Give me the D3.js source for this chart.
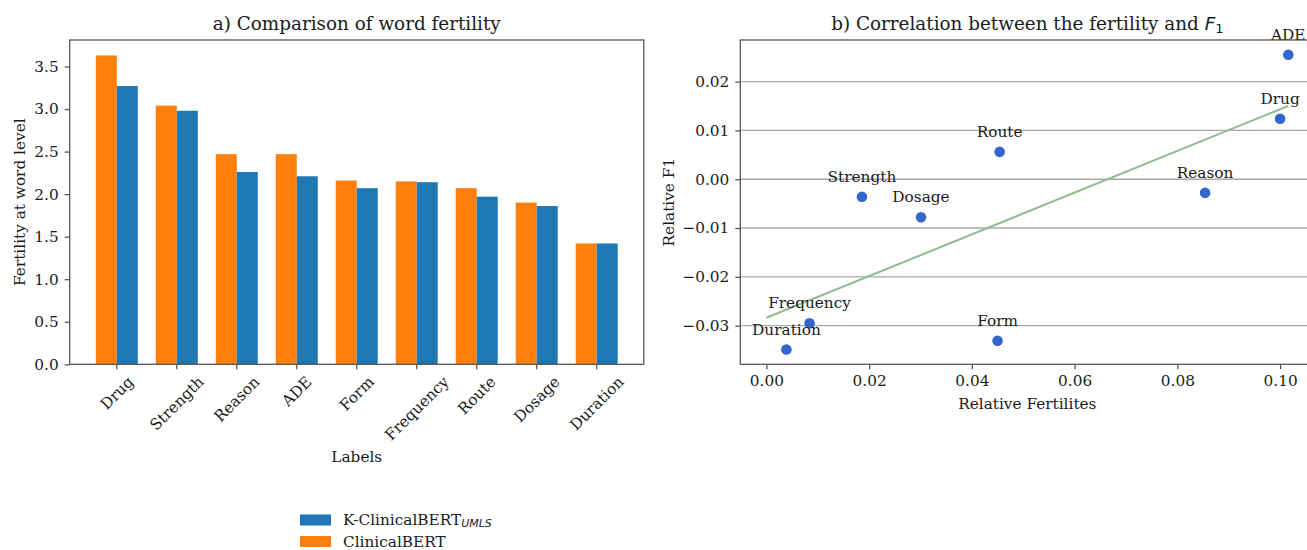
<!DOCTYPE html>
<html>
<head>
<meta charset="utf-8">
<script src="https://cdn.jsdelivr.net/npm/d3@7"></script>
<style>
  html, body { margin: 0; padding: 0; background: #fff; overflow: hidden; }
  svg text { font-family: "DejaVu Serif", serif; fill: #1a1a1a; }
</style>
</head>
<body>
<svg id="fig" width="1307" height="550"></svg>
<script>
// ---- panel a: word fertility per entity label ----
const categories = ["Drug", "Strength", "Reason", "ADE", "Form", "Frequency", "Route", "Dosage", "Duration"];
const clinicalBERT = [3.63, 3.04, 2.47, 2.47, 2.16, 2.15, 2.07, 1.90, 1.42];
const kClinicalBERT = [3.27, 2.98, 2.26, 2.21, 2.07, 2.14, 1.97, 1.86, 1.42];
const fertilityTicks = [0.0, 0.5, 1.0, 1.5, 2.0, 2.5, 3.0, 3.5];

// ---- panel b: relative fertility vs relative F1 ----
const pointLabels = ["Duration", "Frequency", "Strength", "Dosage", "Route", "Form", "Reason", "Drug", "ADE"];
const relativeFertility = [0.0039, 0.0084, 0.0186, 0.0301, 0.0454, 0.0450, 0.0854, 0.1000, 0.1016];
const relativeF1 = [-0.0349, -0.0295, -0.0036, -0.0078, 0.0056, -0.0331, -0.0028, 0.0124, 0.0255];
const relFertilityTicks = [0.00, 0.02, 0.04, 0.06, 0.08, 0.10];
const relF1Ticks = [-0.03, -0.02, -0.01, 0.00, 0.01, 0.02];

const COLOR_CLINICAL = "#ff7f0e";
const COLOR_K = "#1f77b4";
const COLOR_POINT = "#3366cc";
const COLOR_TREND = "#8fbc8f";
const SPINE = "#555";
const FS = 15.3;

const svg = d3.select("#fig");

const A = { left: 69.7, right: 643.8, top: 40, bottom: 364.3 };
const B = { left: 740.3, right: 1314.4, top: 40, bottom: 364.3 };

function styleAxis(g) {
  g.select(".domain").remove();
  g.selectAll(".tick line").attr("stroke", SPINE).attr("stroke-width", 1.3);
  g.selectAll(".tick text").style("font-size", FS + "px").attr("fill", "#1a1a1a");
}

// ================= panel a =================
const xA = d3.scaleBand().domain(categories).range([A.left, A.right])
  .paddingInner(0.3).paddingOuter(0.435);
const yA = d3.scaleLinear()
  .domain([0, d3.max(clinicalBERT.concat(kClinicalBERT)) * 1.05])
  .range([A.bottom, A.top]);
const barW = xA.bandwidth() / 2;

const gA = svg.append("g");
gA.selectAll("rect.cb").data(categories).join("rect")
  .attr("x", d => xA(d))
  .attr("y", (d, i) => yA(clinicalBERT[i]))
  .attr("width", barW)
  .attr("height", (d, i) => yA(0) - yA(clinicalBERT[i]))
  .attr("fill", COLOR_CLINICAL);
gA.selectAll("rect.kb").data(categories).join("rect")
  .attr("x", d => xA(d) + barW)
  .attr("y", (d, i) => yA(kClinicalBERT[i]))
  .attr("width", barW)
  .attr("height", (d, i) => yA(0) - yA(kClinicalBERT[i]))
  .attr("fill", COLOR_K);

gA.append("g").attr("transform", `translate(${A.left},0)`)
  .call(d3.axisLeft(yA).tickValues(fertilityTicks).tickFormat(d3.format(".1f")).tickSize(5).tickPadding(6))
  .call(styleAxis);

const xAxisA = gA.append("g").attr("transform", `translate(0,${A.bottom})`)
  .call(d3.axisBottom(xA).tickSize(5).tickPadding(6))
  .call(styleAxis);
// rotated category labels, centred under each tick
xAxisA.selectAll(".tick text").each(function () {
  const t = d3.select(this);
  const w = this.getComputedTextLength();
  const h = FS * 1.15;
  const cy = 8.5 + (w + h) / (2 * Math.SQRT2);
  t.attr("y", null).attr("dy", "0.35em").attr("text-anchor", "middle")
    .attr("transform", `translate(0,${cy}) rotate(-45)`);
});

gA.append("rect").attr("x", A.left).attr("y", A.top)
  .attr("width", A.right - A.left).attr("height", A.bottom - A.top)
  .attr("fill", "none").attr("stroke", SPINE).attr("stroke-width", 1.3);

svg.append("text").attr("x", (A.left + A.right) / 2).attr("y", 30)
  .attr("text-anchor", "middle").style("font-size", (FS * 1.2) + "px")
  .text("a) Comparison of word fertility");
svg.append("text").attr("x", (A.left + A.right) / 2).attr("y", 462)
  .attr("text-anchor", "middle").style("font-size", FS + "px").text("Labels");
svg.append("text").attr("transform", `translate(25,${(A.top + A.bottom) / 2}) rotate(-90)`)
  .attr("text-anchor", "middle").style("font-size", FS + "px").text("Fertility at word level");

// legend
const leg = svg.append("g").attr("transform", "translate(300,514.5)");
leg.append("rect").attr("x", 0).attr("y", 0).attr("width", 31).attr("height", 11).attr("fill", COLOR_K);
leg.append("rect").attr("x", 0).attr("y", 21.5).attr("width", 31).attr("height", 11).attr("fill", COLOR_CLINICAL);
const l1 = leg.append("text").attr("x", 43).attr("y", 10.7).style("font-size", FS + "px");
l1.append("tspan").text("K-ClinicalBERT");
l1.append("tspan").attr("dy", 2).style("font-family", "'DejaVu Sans', sans-serif")
  .style("font-style", "italic").style("font-size", (FS * 0.72) + "px").text("UMLS");
leg.append("text").attr("x", 43).attr("y", 32.2).style("font-size", FS + "px").text("ClinicalBERT");

// ================= panel b =================
const trendStart = 0;
const xMax = d3.max(relativeFertility);
const xPad = (xMax - trendStart) * 0.05;
const xB = d3.scaleLinear().domain([trendStart - xPad, xMax + xPad]).range([B.left, B.right]);
const yMin = d3.min(relativeF1), yMax = d3.max(relativeF1);
const yPad = (yMax - yMin) * 0.05;
const yB = d3.scaleLinear().domain([yMin - yPad, yMax + yPad]).range([B.bottom, B.top]);

const gB = svg.append("g");
gB.selectAll("line.grid").data(relF1Ticks).join("line")
  .attr("x1", B.left).attr("x2", B.right)
  .attr("y1", d => yB(d)).attr("y2", d => yB(d))
  .attr("stroke", "#a8a8a8").attr("stroke-width", 1.4);

// least-squares trend line over the fertility range
const mx = d3.mean(relativeFertility), my = d3.mean(relativeF1);
const sxy = d3.sum(relativeFertility, (v, i) => (v - mx) * (relativeF1[i] - my));
const sxx = d3.sum(relativeFertility, v => (v - mx) * (v - mx));
const slope = sxy / sxx, intercept = my - slope * mx;
const trendXs = [trendStart, xMax];
gB.append("path")
  .datum(trendXs)
  .attr("d", d3.line().x(d => xB(d)).y(d => yB(intercept + slope * d)))
  .attr("fill", "none").attr("stroke", COLOR_TREND).attr("stroke-width", 2);

gB.selectAll("circle").data(pointLabels).join("circle")
  .attr("cx", (d, i) => xB(relativeFertility[i]))
  .attr("cy", (d, i) => yB(relativeF1[i]))
  .attr("r", 5.3).attr("fill", COLOR_POINT);

gB.selectAll("text.pt").data(pointLabels).join("text")
  .attr("class", "pt")
  .attr("x", (d, i) => xB(relativeFertility[i]))
  .attr("y", (d, i) => yB(relativeF1[i]) - 15)
  .attr("text-anchor", "middle").style("font-size", FS + "px")
  .text(d => d);

gB.append("g").attr("transform", `translate(${B.left},0)`)
  .call(d3.axisLeft(yB).tickValues(relF1Ticks).tickFormat(d3.format(".2f")).tickSize(5).tickPadding(6))
  .call(styleAxis);
gB.append("g").attr("transform", `translate(0,${B.bottom})`)
  .call(d3.axisBottom(xB).tickValues(relFertilityTicks).tickFormat(d3.format(".2f")).tickSize(5).tickPadding(6))
  .call(styleAxis);

gB.append("rect").attr("x", B.left).attr("y", B.top)
  .attr("width", B.right - B.left).attr("height", B.bottom - B.top)
  .attr("fill", "none").attr("stroke", SPINE).attr("stroke-width", 1.3);

const tB = svg.append("text").attr("x", (B.left + B.right) / 2).attr("y", 30)
  .attr("text-anchor", "middle").style("font-size", (FS * 1.2) + "px");
tB.append("tspan").text("b) Correlation between the fertility and ");
tB.append("tspan").style("font-family", "'DejaVu Sans', sans-serif").style("font-style", "italic").text("F");
tB.append("tspan").attr("dy", 3).style("font-family", "'DejaVu Sans', sans-serif")
  .style("font-size", (FS * 0.85) + "px").text("1");

svg.append("text").attr("x", (B.left + B.right) / 2).attr("y", 409)
  .attr("text-anchor", "middle").style("font-size", FS + "px").text("Relative Fertilites");
svg.append("text").attr("transform", `translate(674,${(B.top + B.bottom) / 2}) rotate(-90)`)
  .attr("text-anchor", "middle").style("font-size", FS + "px").text("Relative F1");
</script>
</body>
</html>
